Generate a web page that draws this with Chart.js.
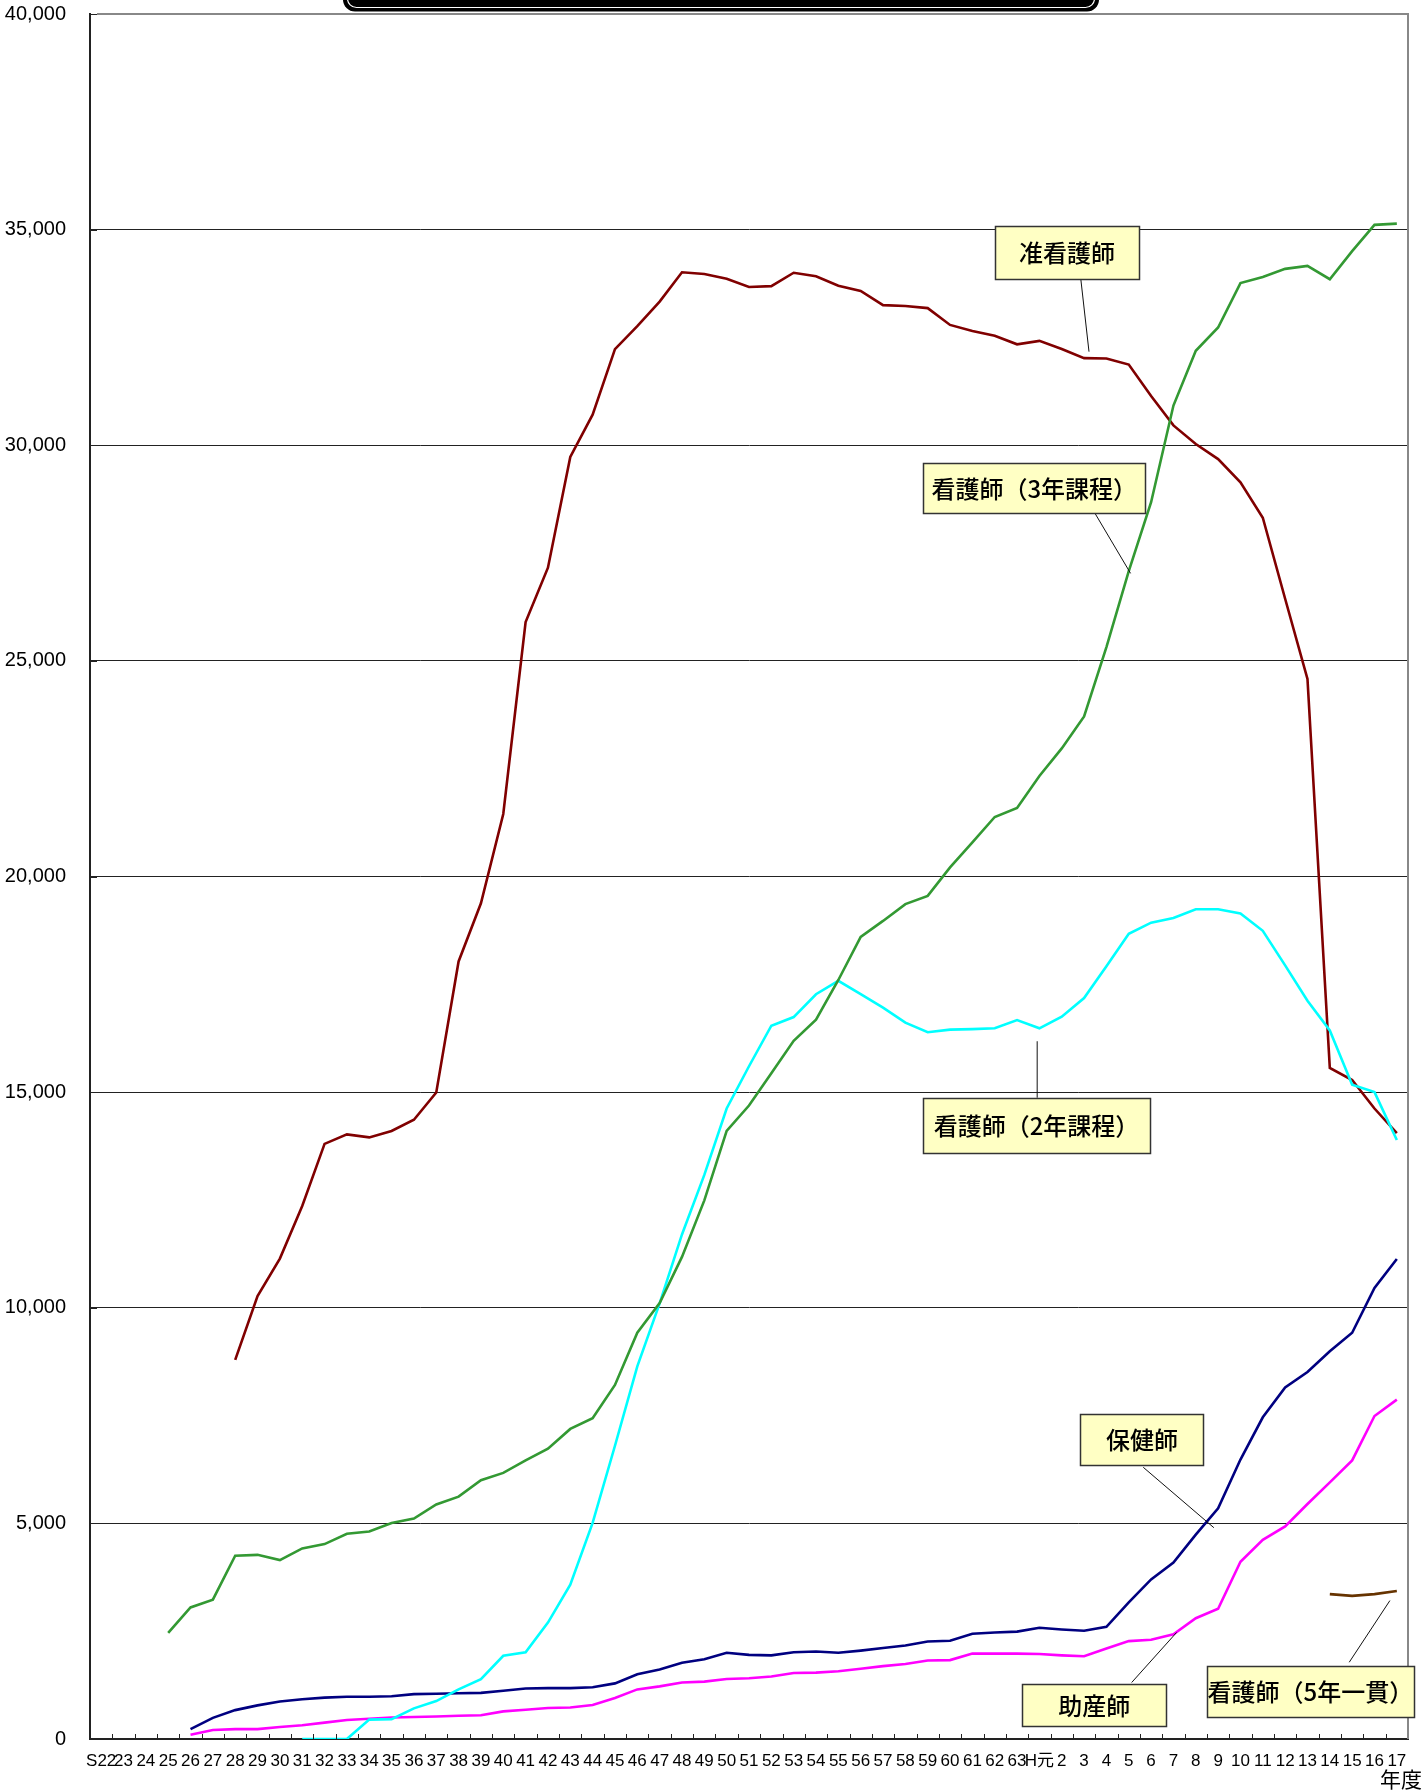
<!DOCTYPE html>
<html lang="ja">
<head>
<meta charset="utf-8">
<title>看護師等学校養成所 入学定員の推移</title>
<script src="https://cdn.jsdelivr.net/npm/chart.js@4.4.1/dist/chart.umd.min.js"></script>
<style>
  html, body { margin: 0; padding: 0; background: #fff; }
  #wrap { width: 1426px; height: 1791px; }
</style>
</head>
<body>
<div id="wrap"><canvas id="chart" width="1426" height="1791"></canvas></div>
<script>
// ─── データ（年度別） ─────────────────────────────────────────────
const years = [
  'S22', '23', '24', '25', '26', '27', '28', '29', '30', '31', '32', '33', '34', '35',
  '36', '37', '38', '39', '40', '41', '42', '43', '44', '45', '46', '47', '48', '49',
  '50', '51', '52', '53', '54', '55', '56', '57', '58', '59', '60', '61', '62', '63',
  'H元', '2', '3', '4', '5', '6', '7', '8', '9', '10', '11', '12', '13', '14', '15', '16', '17'
];

// 准看護師 (S28〜)
const junKangoshi = [
  null, null, null, null, null, null,
  8790, 10270, 11140, 12360, 13800, 14020, 13950, 14100, 14360, 14990,
  18030, 19380, 21450, 25900, 27160, 29730, 30710, 32230, 32760, 33330,
  34010, 33970, 33860, 33670, 33690, 34000, 33920, 33700, 33580, 33250,
  33230, 33180, 32790, 32650, 32540, 32340,
  32420, 32230, 32020, 32010, 31870, 31140, 30460, 30030, 29680, 29140,
  28320, 26440, 24580, 15560, 15280, 14620, 14050
];

// 看護師（3年課程） (S25〜)
const kango3 = [
  null, null, null,
  2460, 3050, 3230, 4250, 4270, 4150, 4420, 4520, 4760, 4810,
  5010, 5110, 5440, 5620, 6000, 6170, 6460, 6730, 7190, 7440,
  8210, 9420, 10110, 11180, 12490, 14100, 14690, 15440, 16190, 16680,
  17600, 18600, 18970, 19360, 19550, 20210, 20790, 21380, 21590,
  22330, 22970, 23710, 25320, 27080, 28680, 30920, 32190, 32730, 33760,
  33900, 34090, 34160, 33850, 34500, 35110, 35140
];

// 看護師（2年課程） (S31〜)
const kango2 = [
  null, null, null, null, null, null, null, null, null,
  0, 0, 0, 450, 460, 710, 880, 1150, 1390, 1930,
  2010, 2700, 3580, 5010, 6800, 8640, 10100, 11700, 13080, 14620,
  15600, 16540, 16740, 17270, 17580, 17270, 16960, 16610, 16390, 16450,
  16460, 16480, 16670,
  16480, 16750, 17180, 17920, 18670, 18930, 19040, 19240, 19240, 19140,
  18740, 17940, 17120, 16430, 15170, 15000, 13890
];

// 保健師 (S26〜)
const hokenshi = [
  null, null, null, null,
  230, 490, 670, 780, 870, 920, 960, 980, 980, 990,
  1040, 1050, 1060, 1070, 1120, 1170, 1180, 1180, 1200, 1290,
  1500, 1610, 1770, 1850, 2000, 1950, 1940, 2010, 2030, 2000,
  2050, 2110, 2170, 2260, 2280, 2440, 2470, 2490,
  2580, 2540, 2510, 2600, 3170, 3700, 4090, 4740, 5350, 6480,
  7460, 8150, 8510, 8990, 9420, 10460, 11130
];

// 助産師 (S26〜)
const josanshi = [
  null, null, null, null,
  100, 210, 230, 230, 280, 320, 380, 440, 470, 500,
  510, 520, 540, 550, 640, 680, 720, 730, 790, 950,
  1150, 1220, 1310, 1330, 1390, 1410, 1450, 1530, 1540, 1570,
  1630, 1690, 1740, 1820, 1830, 1980, 1980, 1980,
  1970, 1940, 1920, 2100, 2270, 2300, 2430, 2800, 3020, 4110,
  4620, 4930, 5450, 5950, 6460, 7490, 7870
];

// 看護師（5年一貫） (H14〜)
const kango5 = [
  null, null, null, null, null, null, null, null, null, null,
  null, null, null, null, null, null, null, null, null, null,
  null, null, null, null, null, null, null, null, null, null,
  null, null, null, null, null, null, null, null, null, null,
  null, null, null, null, null, null, null, null, null, null,
  null, null, null, null, null,
  3360, 3320, 3360, 3430
];

const yTicks = { min: 0, max: 40000, step: 5000 };

// 吹き出し（x: 年度の位置, y: 人数 の座標で指定）
const callouts = [
  { text: '准看護師',           x: 43.23, y: 34480, w: 144, h: 53, from: [43.85, 33870], to: [44.22, 32170] },
  { text: '看護師（3年課程）',   x: 41.77, y: 29020, w: 222, h: 50, from: [44.49, 28420], to: [46.08, 27030] },
  { text: '看護師（2年課程）',   x: 41.87, y: 14230, w: 227, h: 55, from: [41.90, 14870], to: [41.90, 16180] },
  { text: '保健師',             x: 46.59, y: 6950,  w: 123, h: 51, from: [46.65, 6300],  to: [49.81, 4900] },
  { text: '助産師',             x: 44.45, y: 800,   w: 144, h: 42, from: [46.13, 1310],  to: [48.14, 2470] },
  { text: '看護師（5年一貫）',   x: 54.13, y: 1110,  w: 207, h: 51, from: [55.87, 1780],  to: [57.69, 3210] },
];

const JP_FONT  = '"Noto Sans CJK JP", "Noto Sans CJK SC", sans-serif';
const NUM_FONT = '"Liberation Sans", Arial, "Noto Sans CJK JP", sans-serif';
const X_FONT   = '"Liberation Sans Narrow", "Liberation Sans", "Noto Sans CJK JP", sans-serif';

// ─── 装飾プラグイン ─────────────────────────────────────────────
const decorPlugin = {
  id: 'decor',
  beforeDraw(chart) {
    const { ctx } = chart;
    ctx.save();
    ctx.fillStyle = '#fff';
    ctx.fillRect(0, 0, chart.width, chart.height);
    ctx.restore();
  },
  afterDatasetsDraw(chart) {
    const { ctx, chartArea: a, scales: { x, y } } = chart;
    ctx.save();

    // 目盛（内向き）
    ctx.strokeStyle = '#222';
    ctx.lineWidth = 1;
    ctx.beginPath();
    for (let k = 0; k <= years.length; k++) {
      const px = Math.round(x.getPixelForValue(k - 0.5)) + 0.5;
      ctx.moveTo(px, a.bottom);
      ctx.lineTo(px, a.bottom - 5);
    }
    for (const t of y.ticks) {
      const py = Math.round(y.getPixelForValue(t.value)) + 0.5;
      ctx.moveTo(a.left, py);
      ctx.lineTo(a.left + 7, py);
    }
    ctx.stroke();

    // 上・右の枠
    ctx.strokeStyle = '#888';
    ctx.lineWidth = 2;
    ctx.beginPath();
    ctx.moveTo(a.left + 7, a.top);
    ctx.lineTo(a.right, a.top);
    ctx.lineTo(a.right, a.bottom);
    ctx.stroke();

    // 吹き出し
    ctx.font = '500 24px ' + JP_FONT;
    ctx.textAlign = 'center';
    ctx.textBaseline = 'middle';
    for (const c of callouts) {
      ctx.strokeStyle = '#111';
      ctx.lineWidth = 1;
      ctx.beginPath();
      ctx.moveTo(x.getPixelForValue(c.from[0]), y.getPixelForValue(c.from[1]));
      ctx.lineTo(x.getPixelForValue(c.to[0]), y.getPixelForValue(c.to[1]));
      ctx.stroke();

      const cx = x.getPixelForValue(c.x);
      const cy = y.getPixelForValue(c.y);
      const bx = Math.round(cx - c.w / 2) + 0.5;
      const by = Math.round(cy - c.h / 2) + 0.5;
      ctx.fillStyle = '#ffffc4';
      ctx.fillRect(bx, by, c.w, c.h);
      ctx.strokeStyle = '#333';
      ctx.lineWidth = 1.5;
      ctx.strokeRect(bx, by, c.w, c.h);
      ctx.fillStyle = '#000';
      ctx.fillText(c.text, cx, cy + 1);
    }

    // 上部タイトル枠（見切れ）
    ctx.fillStyle = '#000';
    ctx.beginPath();
    ctx.roundRect(343, -40, 756, 51.5, 12);
    ctx.fill();
    ctx.strokeStyle = '#fff';
    ctx.lineWidth = 1.2;
    ctx.beginPath();
    ctx.roundRect(347.5, -40, 747, 47.5, 9);
    ctx.stroke();

    // 軸タイトル
    ctx.fillStyle = '#000';
    ctx.font = '21px ' + JP_FONT;
    ctx.textAlign = 'right';
    ctx.textBaseline = 'middle';
    ctx.fillText('年度', 1422, 1779);

    ctx.restore();
  },
};

// ─── グラフ ─────────────────────────────────────────────────────
const series = [
  { label: '看護師（3年課程）', data: kango3,      color: '#339933' },
  { label: '看護師（2年課程）', data: kango2,      color: '#00ffff' },
  { label: '准看護師',          data: junKangoshi, color: '#800000' },
  { label: '保健師',            data: hokenshi,    color: '#000080' },
  { label: '助産師',            data: josanshi,    color: '#ff00ff' },
  { label: '看護師（5年一貫）', data: kango5,      color: '#663300' },
];

new Chart(document.getElementById('chart'), {
  type: 'line',
  data: {
    labels: years,
    datasets: series.map(s => ({
      label: s.label,
      data: s.data,
      borderColor: s.color,
      backgroundColor: s.color,
      borderWidth: 2.6,
      pointRadius: 0,
      tension: 0,
      spanGaps: false,
      fill: false,
    })),
  },
  options: {
    responsive: false,
    animation: false,
    layout: { padding: { top: 14, right: 18, bottom: 0, left: 0 } },
    plugins: {
      legend: { display: false },
      tooltip: { enabled: false },
    },
    scales: {
      x: {
        type: 'category',
        offset: true,
        grid: { display: false, drawTicks: false },
        border: { display: true, color: '#222', width: 2 },
        ticks: {
          autoSkip: false,
          maxRotation: 0,
          minRotation: 0,
          padding: 12,
          color: '#000',
          font: { family: X_FONT, size: 17 },
        },
        afterFit: scale => {
          scale.height = 52;
          scale.paddingLeft = 0;
          scale.paddingRight = 0;
        },
      },
      y: {
        min: yTicks.min,
        max: yTicks.max,
        grid: { color: '#222', lineWidth: 1, drawTicks: false },
        border: { display: true, color: '#222', width: 2 },
        ticks: {
          stepSize: yTicks.step,
          padding: 24,
          color: '#000',
          font: { family: NUM_FONT, size: 20 },
          callback: v => v.toLocaleString('en-US'),
        },
        afterFit: scale => {
          scale.width = 90;
          scale.paddingTop = 0;
          scale.paddingBottom = 0;
        },
      },
    },
  },
  plugins: [decorPlugin],
});
</script>
</body>
</html>
